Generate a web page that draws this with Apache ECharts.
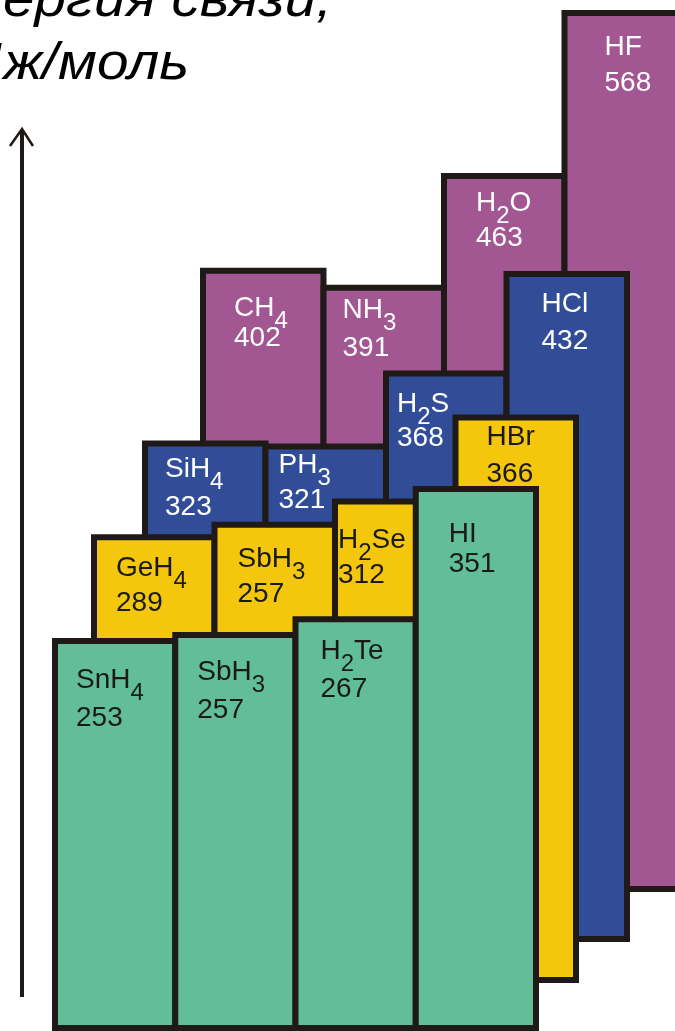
<!DOCTYPE html>
<html><head><meta charset="utf-8">
<script src="https://cdn.jsdelivr.net/npm/echarts@6/dist/echarts.min.js"></script>
<style>html,body{margin:0;padding:0;background:#fff}#c{width:675px;height:1031px}</style>
</head><body><div id="c"></div>
<script>
// ---- data (front row to back row) ----
const greenFormulas  = ['SnH4', 'SbH3', 'H2Te', 'HI'];
const greenValues    = [253, 257, 267, 351];
const greenPrinted   = ['253', '257', '267', '351'];

const yellowFormulas = ['GeH4', 'SbH3', 'H2Se', 'HBr'];
const yellowValues   = [289, 297, 312, 366];
const yellowPrinted  = ['289', '257', '312', '366'];

const blueFormulas   = ['SiH4', 'PH3', 'H2S', 'HCl'];
const blueValues     = [323, 321, 368, 432];
const bluePrinted    = ['323', '321', '368', '432'];

const purpleFormulas = ['CH4', 'NH3', 'H2O', 'HF'];
const purpleValues   = [402, 391, 463, 568];
const purplePrinted  = ['402', '391', '463', '568'];

const titleLines = ['Энергия связи,', 'кДж/моль'];
const axisMax = 570;

// ---- layout / style (not data) ----
const K = 1.553;              // px per unit
const H = axisMax * K;
const BORDER = 6;
const edge = '#1f1a17';
const FONT = 'Liberation Sans';
const DX = 4, DY = 5;

const layers = [
  { name: 'purple', formulas: purpleFormulas, values: purpleValues, printed: purplePrinted,
    color: '#A25692', text: '#ffffff', left: 203, width: 482, bottom: 892, z: 2,
    lab: [[30, 21, 30], [18, 2, 38], [31, 8, 35], [39, 14, 36]] },
  { name: 'blue', formulas: blueFormulas, values: blueValues, printed: bluePrinted,
    color: '#324D97', text: '#ffffff', left: 145, width: 482, bottom: 942, z: 3,
    lab: [[19, 5, 38], [12, -1, 35], [10, 12, 34], [34, 10, 37]] },
  { name: 'yellow', formulas: yellowFormulas, values: yellowValues, printed: yellowPrinted,
    color: '#F4C70C', text: '#1a1a1a', left: 94, width: 482, bottom: 983, z: 4,
    lab: [[21, 12, 35], [22, 15, 35], [2, 19, 35], [30, -1, 37]] },
  { name: 'green', formulas: greenFormulas, values: greenValues, printed: greenPrinted,
    color: '#62BD99', text: '#1a1a1a', left: 55, width: 481, bottom: 1031, z: 5,
    lab: [[20, 18, 38], [21, 16, 38], [24, 11, 38], [32, 28, 30]] }
];

const grid = [], xAxis = [], yAxis = [], series = [];
layers.forEach((L, gi) => {
  grid.push({ left: L.left, width: L.width, top: L.bottom - H, height: H, outerBoundsMode: 'none' });
  xAxis.push({ type: 'category', gridIndex: gi, data: L.formulas, show: false });
  yAxis.push({ type: 'value', gridIndex: gi, min: 0, max: axisMax, show: false });
  series.push({
    type: 'bar', xAxisIndex: gi, yAxisIndex: gi, z: L.z,
    barWidth: L.width / 4 + BORDER,
    itemStyle: { color: L.color, borderColor: edge, borderWidth: BORDER },
    label: {
      show: true, color: L.text, fontFamily: FONT, fontSize: 28,
      formatter: p => L.formulas[p.dataIndex].replace(/(\d)/g, '{s|$1}') + '\n' + L.printed[p.dataIndex],
      rich: { s: { fontSize: 24, color: L.text, fontFamily: FONT, padding: [26, 0, 0, 0] } }
    },
    data: L.values.map((v, i) => ({
      value: v,
      label: { position: [L.lab[i][0] + DX, L.lab[i][1] + DY], lineHeight: L.lab[i][2] }
    }))
  });
});

const titleStyle = { fill: '#000', fontStyle: 'italic', fontSize: 52, fontFamily: FONT, align: 'right', verticalAlign: 'top' };
const chart = echarts.init(document.getElementById('c'), null, { renderer: 'canvas' });
chart.setOption({
  animation: false,
  backgroundColor: '#ffffff',
  grid, xAxis, yAxis, series,
  graphic: [
    { type: 'text', x: 332, y: -24, scaleX: 1.09, style: Object.assign({ text: titleLines[0] }, titleStyle) },
    { type: 'text', x: 189, y: 39, scaleX: 1.09, style: Object.assign({ text: titleLines[1] }, titleStyle) },
    { type: 'line', shape: { x1: 22, y1: 997, x2: 22, y2: 131 }, style: { stroke: edge, lineWidth: 4 } },
    { type: 'polyline', shape: { points: [[10, 146], [22, 129], [33, 146]] }, style: { stroke: edge, fill: null, lineWidth: 2.5 } }
  ]
});
</script>
</body></html>
